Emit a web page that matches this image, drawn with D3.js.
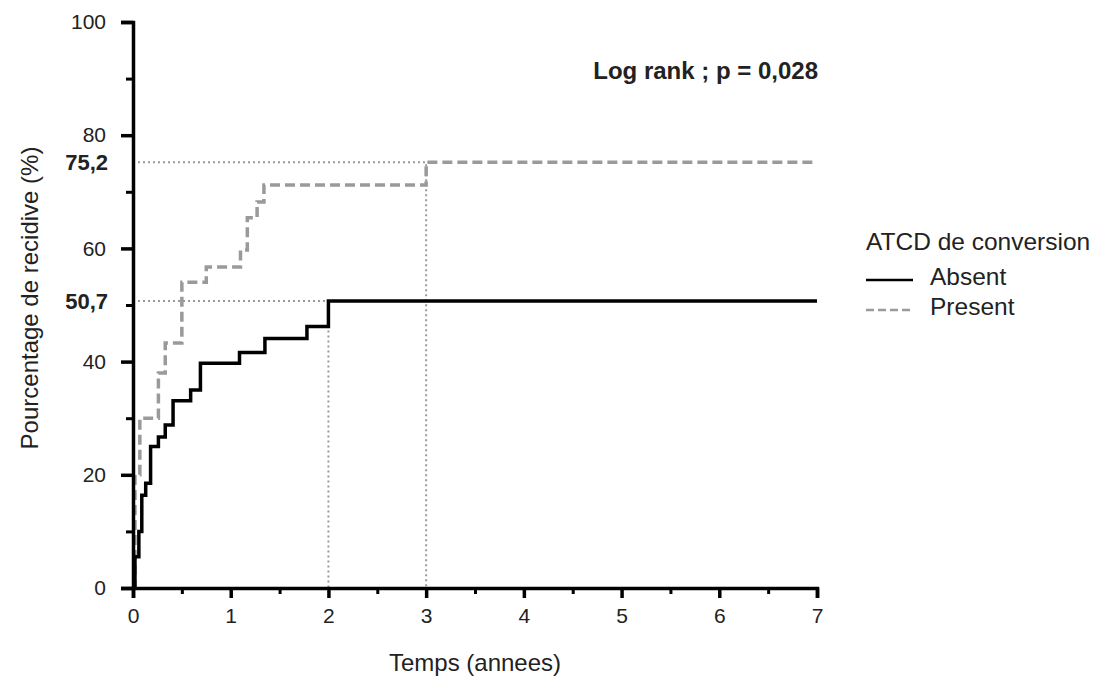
<!DOCTYPE html>
<html lang="fr">
<head>
<meta charset="UTF-8">
<title>Pourcentage de recidive</title>
<script src="https://d3js.org/d3.v7.min.js"></script>
<style>
  body { margin: 0; background: #fff; }
  text { font-family: "Liberation Sans", Arial, sans-serif; }
</style>
</head>
<body>
<div id="chart"></div>
<script>
// Kaplan-Meier style cumulative recurrence (step curves)
const absentTimes  = [0, 0.02, 0.06, 0.09, 0.13, 0.18, 0.26, 0.33, 0.41, 0.59, 0.69, 1.09, 1.35, 1.78, 2.0, 7];
const absentValues = [0, 5.5, 10, 16.4, 18.5, 25, 26.7, 28.8, 33.1, 35.0, 39.7, 41.6, 44.1, 46.2, 50.7, 50.7];
const presentTimes  = [0, 0.02, 0.07, 0.26, 0.33, 0.5, 0.75, 1.1, 1.17, 1.27, 1.34, 3.0, 7];
const presentValues = [0, 20, 30, 38, 43.3, 54, 56.7, 59.7, 65.4, 68.2, 71.2, 75.2, 75.2];

const xTicks = [0, 1, 2, 3, 4, 5, 6, 7];
const yTicks = [0, 20, 40, 60, 80, 100];
// reference guides: [time, value, label]
const guides = [[2, 50.7, "50,7"], [3, 75.2, "75,2"]];
const legendLabels = ["Absent", "Present"];

const width = 1101, height = 679;
const margin = { top: 22, right: 284, bottom: 91, left: 133 };
const ink = '#222';

const svg = d3.select('#chart').append('svg')
  .attr('width', width).attr('height', height);

const x = d3.scaleLinear().domain([0, 7]).range([margin.left, width - margin.right]);
const y = d3.scaleLinear().domain([0, 100]).range([height - margin.bottom, margin.top]);

const toPts = (ts, vs) => ts.map((t, i) => ({ t: t, v: vs[i] }));

// dotted reference lines
guides.forEach(g => {
  svg.append('path')
    .attr('d', `M${x(0)},${y(g[1])}H${x(g[0])}V${y(0)}`)
    .attr('fill', 'none').attr('stroke', '#9a9a9a')
    .attr('stroke-width', 2).attr('stroke-dasharray', '2,3');
  svg.append('text')
    .attr('x', 108).attr('y', y(g[1]) + 8)
    .attr('text-anchor', 'end')
    .attr('font-size', 22).attr('font-weight', 'bold').attr('fill', ink)
    .text(g[2]);
});

const line = d3.line().x(d => x(d.t)).y(d => y(d.v)).curve(d3.curveStepAfter);

svg.append('path')
  .datum(toPts(presentTimes, presentValues))
  .attr('fill', 'none').attr('stroke', '#9a9a9a')
  .attr('stroke-width', 3.5).attr('stroke-dasharray', '10,5')
  .attr('d', line);

svg.append('path')
  .datum(toPts(absentTimes, absentValues))
  .attr('fill', 'none').attr('stroke', '#000')
  .attr('stroke-width', 3.5)
  .attr('d', line);

// x axis
const xAxis = svg.append('g')
  .attr('transform', `translate(0,${y(0)})`)
  .call(d3.axisBottom(x).tickValues(xTicks).tickSize(10).tickPadding(10).tickFormat(d3.format('d')));
svg.append('g')
  .attr('transform', `translate(0,${y(0)})`)
  .call(d3.axisBottom(x).tickValues(d3.range(0.5, 7, 1)).tickSize(6).tickFormat(''))
  .call(g => g.select('.domain').remove())
  .selectAll('line').attr('stroke-width', 3);

// y axis
const yAxis = svg.append('g')
  .attr('transform', `translate(${x(0)},0)`)
  .call(d3.axisLeft(y).tickValues(yTicks).tickSize(12).tickPadding(15));
svg.append('g')
  .attr('transform', `translate(${x(0)},0)`)
  .call(d3.axisLeft(y).tickValues(d3.range(10, 100, 20)).tickSize(7).tickFormat(''))
  .call(g => g.select('.domain').remove())
  .selectAll('line').attr('stroke-width', 3);

[xAxis, yAxis].forEach(a => {
  a.select('.domain').attr('stroke-width', 3.5).attr('stroke', '#000');
  a.selectAll('.tick line').attr('stroke-width', 3.5).attr('stroke', '#000');
  a.selectAll('.tick text').attr('font-size', 21).attr('fill', ink)
    .attr('font-family', '"Liberation Sans", Arial, sans-serif');
});

// axis titles
svg.append('text')
  .attr('x', x(3.5)).attr('y', 671)
  .attr('text-anchor', 'middle').attr('font-size', 24).attr('fill', ink)
  .text('Temps (annees)');
svg.append('text')
  .attr('transform', `translate(38,298) rotate(-90)`)
  .attr('text-anchor', 'middle').attr('font-size', 24).attr('fill', ink)
  .text('Pourcentage de recidive (%)');

// log rank annotation
svg.append('text')
  .attr('x', 818).attr('y', 79)
  .attr('text-anchor', 'end').attr('font-size', 24).attr('font-weight', 'bold').attr('fill', ink)
  .text('Log rank ; p = 0,028');

// legend
const legend = svg.append('g').attr('transform', 'translate(866,0)');
legend.append('text').attr('x', 0).attr('y', 250)
  .attr('font-size', 24.5).attr('fill', ink).text('ATCD de conversion');
legendLabels.forEach((lab, i) => {
  const ly = 280 + i * 30;
  legend.append('line')
    .attr('x1', 0).attr('x2', 47).attr('y1', ly).attr('y2', ly)
    .attr('stroke', i === 0 ? '#000' : '#9a9a9a').attr('stroke-width', 2.5)
    .attr('stroke-dasharray', i === 0 ? null : '8,4');
  legend.append('text').attr('x', 64).attr('y', ly + 5)
    .attr('font-size', 24.5).attr('fill', ink).text(lab);
});
</script>
</body>
</html>
